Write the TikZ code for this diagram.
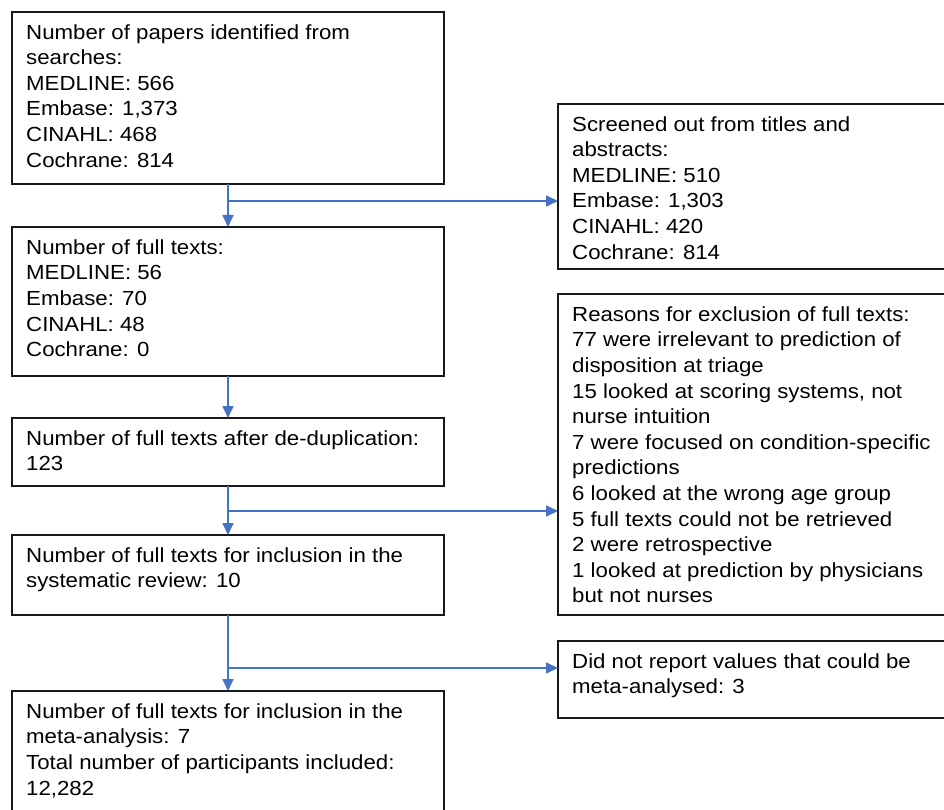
\documentclass[tikz,border=0pt]{standalone}
\usepackage{fontspec}
\setmainfont{Liberation Sans}[FakeStretch=1.09]
\usetikzlibrary{arrows.meta,calc}
\definecolor{arrblue}{RGB}{68,114,196}
\begin{document}
\begin{tikzpicture}[x=1pt,y=-1pt,
  box/.style={draw=black!90,line width=1.3pt,inner sep=0pt,outer sep=0pt,anchor=north west},
  txt/.style={anchor=north west,inner sep=0pt,align=left,font=\fontsize{20.4}{25.6}\selectfont},
  arr/.style={draw=arrblue,line width=1.6pt,-{Triangle[length=12pt,width=11pt]}}]
\useasboundingbox (0,0) rectangle (944,810);
\clip (0,0) rectangle (944,810);
\fill[white] (0,0) rectangle (944,810);
% left column boxes
\node[box,minimum width=432pt,minimum height=172pt] (b1) at (12,12) {};
\node[box,minimum width=432pt,minimum height=149pt] (b2) at (12,227) {};
\node[box,minimum width=432pt,minimum height=68pt] (b3) at (12,418) {};
\node[box,minimum width=432pt,minimum height=80pt] (b4) at (12,535) {};
\node[box,minimum width=432pt,minimum height=140pt] (b5) at (12,691) {};
% right column boxes
\node[box,minimum width=400pt,minimum height=165pt] (bA) at (558,104) {};
\node[box,minimum width=400pt,minimum height=321pt] (bB) at (558,294) {};
\node[box,minimum width=400pt,minimum height=77pt] (bC) at (558,641) {};
% texts
\newcommand{\fst}{\rule{0pt}{15pt}}
\node[txt] (t1) at ([xshift=14pt,yshift=-12pt]b1.north west) {\fst Number of papers identified from\\searches:\\MEDLINE: 566\\Embase: 1,373\\CINAHL: 468\\Cochrane: 814};
\node[txt] (t2) at ([xshift=14pt,yshift=-12pt]b2.north west) {\fst Number of full texts:\\MEDLINE: 56\\Embase: 70\\CINAHL: 48\\Cochrane: 0};
\node[txt] (t3) at ([xshift=14pt,yshift=-12pt]b3.north west) {\fst Number of full texts after de-duplication:\\123};
\node[txt] (t4) at ([xshift=14pt,yshift=-12pt]b4.north west) {\fst Number of full texts for inclusion in the\\systematic review: 10};
\node[txt] (t5) at ([xshift=14pt,yshift=-12pt]b5.north west) {\fst Number of full texts for inclusion in the\\meta-analysis: 7\\Total number of participants included:\\12,282};
\node[txt] (tA) at ([xshift=14pt,yshift=-12pt]bA.north west) {\fst Screened out from titles and\\abstracts:\\MEDLINE: 510\\Embase: 1,303\\CINAHL: 420\\Cochrane: 814};
\node[txt] (tB) at ([xshift=14pt,yshift=-12pt]bB.north west) {\fst Reasons for exclusion of full texts:\\77 were irrelevant to prediction of\\disposition at triage\\15 looked at scoring systems, not\\nurse intuition\\7 were focused on condition-specific\\predictions\\6 looked at the wrong age group\\5 full texts could not be retrieved\\2 were retrospective\\1 looked at prediction by physicians\\but not nurses};
\node[txt] (tC) at ([xshift=14pt,yshift=-12pt]bC.north west) {\fst Did not report values that could be\\meta-analysed: 3};
% connectors
\path (b1.south) ++(0,17) coordinate (j1);
\path (b3.south) ++(0,25) coordinate (j2);
\path (b4.south) ++(0,53) coordinate (j3);
\draw[arr] (b1.south) -- (b2.north);
\draw[arr] (j1) -- (j1 -| bA.west);
\draw[arr] (b2.south) -- (b3.north);
\draw[arr] (b3.south) -- (b4.north);
\draw[arr] (j2) -- (j2 -| bB.west);
\draw[arr] (b4.south) -- (b5.north);
\draw[arr] (j3) -- (j3 -| bC.west);
\end{tikzpicture}
\end{document}
